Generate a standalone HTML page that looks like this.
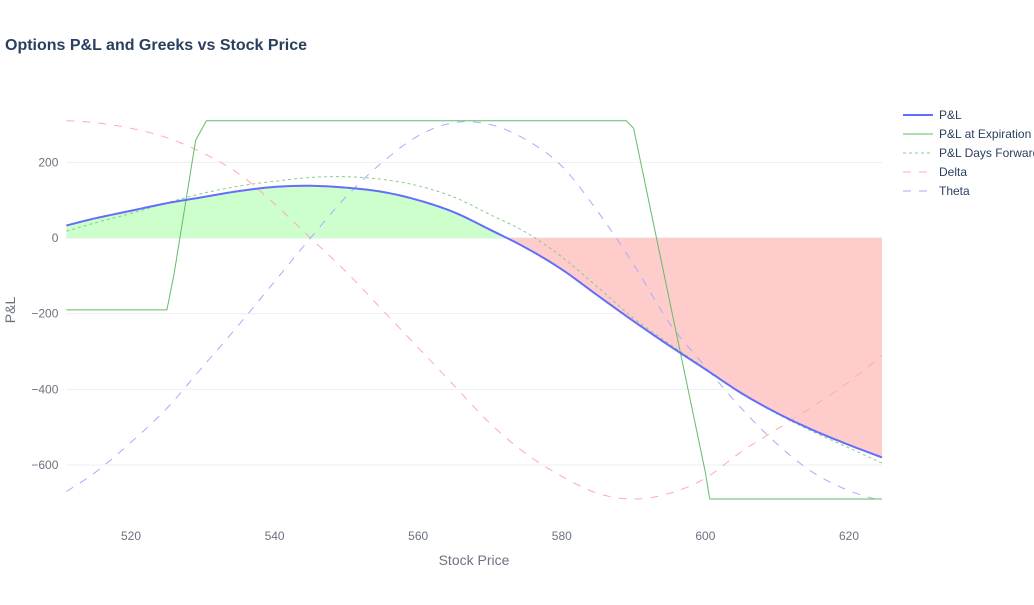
<!DOCTYPE html>
<html><head><meta charset="utf-8"><style>
body{margin:0;background:#fff;font-family:"Liberation Sans",Arial,sans-serif}
svg text{font-family:"Liberation Sans",Arial,sans-serif}
</style></head><body>
<svg id="chart" width="1034" height="600">
<text x="5" y="50" font-size="16" font-weight="bold" fill="#2a3f5f">Options P&amp;L and Greeks vs Stock Price</text>
<g id="grid"></g><g id="fills"></g><g id="lines"></g><g id="axes"></g>
<text x="474" y="565" font-size="14" fill="#6b7280" text-anchor="middle">Stock Price</text>
<text transform="translate(15,310) rotate(-90)" font-size="14" fill="#6b7280" text-anchor="middle">P&amp;L</text>
<g id="legend"></g>
</svg>
<script>
const xs=[511,515,520,525,530,535,540,545,550,555,560,565,570,575,580,585,590,595,600,605,610,615,620,624.6];
const pnl=[33,52,72,92,108,124,135,138,133,122,100,68,22,-26,-83,-152,-220,-285,-347,-410,-463,-508,-547,-580];
const pnlDays=[18,40,65,93,118,137,150,160,162,155,138,108,62,15,-50,-130,-212,-280,-345,-410,-465,-512,-555,-595];
const delta=[310,305,290,265,225,170,90,0,-90,-190,-290,-390,-490,-570,-630,-675,-690,-675,-635,-565,-505,-445,-380,-310];
const theta=[-670,-620,-540,-450,-340,-230,-115,0,110,200,270,305,300,260,190,70,-70,-225,-340,-450,-545,-620,-668,-695];
const expX=[511,525,526,529,530.5,589,590,600,600.6,624.6];
const expY=[-190,-190,-95,258,310,310,290,-620,-690,-690];
const xTicks=[520,540,560,580,600,620];
const yTicks=[200,0,-200,-400,-600];
const NS='http://www.w3.org/2000/svg';
const X=v=>131+(v-520)*7.18;
const Y=v=>238-v*0.3783;
function mk(tag,attrs,parent){const e=document.createElementNS(NS,tag);for(const k in attrs)e.setAttribute(k,attrs[k]);document.getElementById(parent).appendChild(e);return e;}
const L=X(511),R=X(624.6);
yTicks.forEach(t=>{
 const g=mk('line',{x1:L,x2:R,y1:Y(t),y2:Y(t),stroke:t===0?'#e5e7eb':'#eceff3','stroke-width':1},'grid');
 
 
 const tx=mk('text',{x:L-8,y:Y(t)+4,'font-size':12,fill:'#6b7280','text-anchor':'end'},'axes');
 tx.textContent=t===0?'0':(t<0?'\u2212'+(-t):t);
 
 
});
xTicks.forEach(t=>{
 const tx=mk('text',{x:X(t),y:540,'font-size':12,fill:'#6b7280','text-anchor':'middle'},'axes');
 tx.textContent=t;
 
 
});
// smooth sampling via Catmull-Rom
function smooth(xa,ya){
 const out=[];
 for(let i=0;i<xa.length-1;i++){
  const p0=[xa[Math.max(i-1,0)],ya[Math.max(i-1,0)]],p1=[xa[i],ya[i]],p2=[xa[i+1],ya[i+1]],p3=[xa[Math.min(i+2,xa.length-1)],ya[Math.min(i+2,xa.length-1)]];
  for(let s=0;s<10;s++){const t=s/10,t2=t*t,t3=t2*t;
   const f=k=>0.5*((2*p1[k])+(-p0[k]+p2[k])*t+(2*p0[k]-5*p1[k]+4*p2[k]-p3[k])*t2+(-p0[k]+3*p1[k]-3*p2[k]+p3[k])*t3);
   out.push([f(0),f(1)]);}
 }
 out.push([xa[xa.length-1],ya[ya.length-1]]);
 return out;
}
const sp=smooth(xs,pnl);
let pos=[],neg=[];
for(let i=0;i<sp.length;i++){
 const v=sp[i][1];
 if(i>0&&(sp[i-1][1]>=0)!==(v>=0)){const a=sp[i-1][1],f=a/(a-v);const xc=sp[i-1][0]+f*(sp[i][0]-sp[i-1][0]);pos.push([xc,0]);neg.push([xc,0]);}
 if(v>=0)pos.push(sp[i]);else neg.push(sp[i]);
}
function area(pts,color,name){
 let d='M'+X(pts[0][0])+','+Y(0);pts.forEach(p=>d+='L'+X(p[0])+','+Y(p[1]));d+='L'+X(pts[pts.length-1][0])+','+Y(0)+'Z';
 const e=mk('path',{d:d,fill:color},'fills');
 
 
}
area(pos,'#ccffcc','profit-area');area(neg,'#ffcccc','loss-area');
function line(pts,color,w,dash,name){
 const d=pts.map((p,i)=>(i?'L':'M')+X(p[0]).toFixed(2)+','+Y(p[1]).toFixed(2)).join('');
 const e=mk('path',{d:d,fill:'none',stroke:color,'stroke-width':w,'stroke-dasharray':dash,'stroke-linejoin':'round'},'lines');
 
 
}
line(smooth(xs,delta),'#ffaab4',1,'8,8','delta-line');
line(smooth(xs,theta),'#aaaaff',1,'8,8','theta-line');
line(expX.map((x,i)=>[x,expY[i]]),'#66bb66',1,'none','pnl-expiration-line');
line(smooth(xs,pnlDays),'#88cc88',1,'3,3','pnl-days-forward-line');
line(sp,'#636efa',2,'none','pnl-line');
const leg=[['P&L','#636efa',2,'none'],['P&L at Expiration','#66bb66',1,'none'],['P&L Days Forward','#88cc88',1,'3,3'],['Delta','#ffaab4',1,'8,8'],['Theta','#aaaaff',1,'8,8']];
leg.forEach((l,i)=>{
 const y=115+i*19;
 const ln=mk('line',{x1:903,x2:933,y1:y,y2:y,stroke:l[1],'stroke-width':l[2],'stroke-dasharray':l[3]},'legend');
 
 
 const t=mk('text',{x:939,y:y+4,'font-size':12,fill:'#2a3f5f'},'legend');
 t.textContent=l[0];
 
 
});
</script>
</body></html>
